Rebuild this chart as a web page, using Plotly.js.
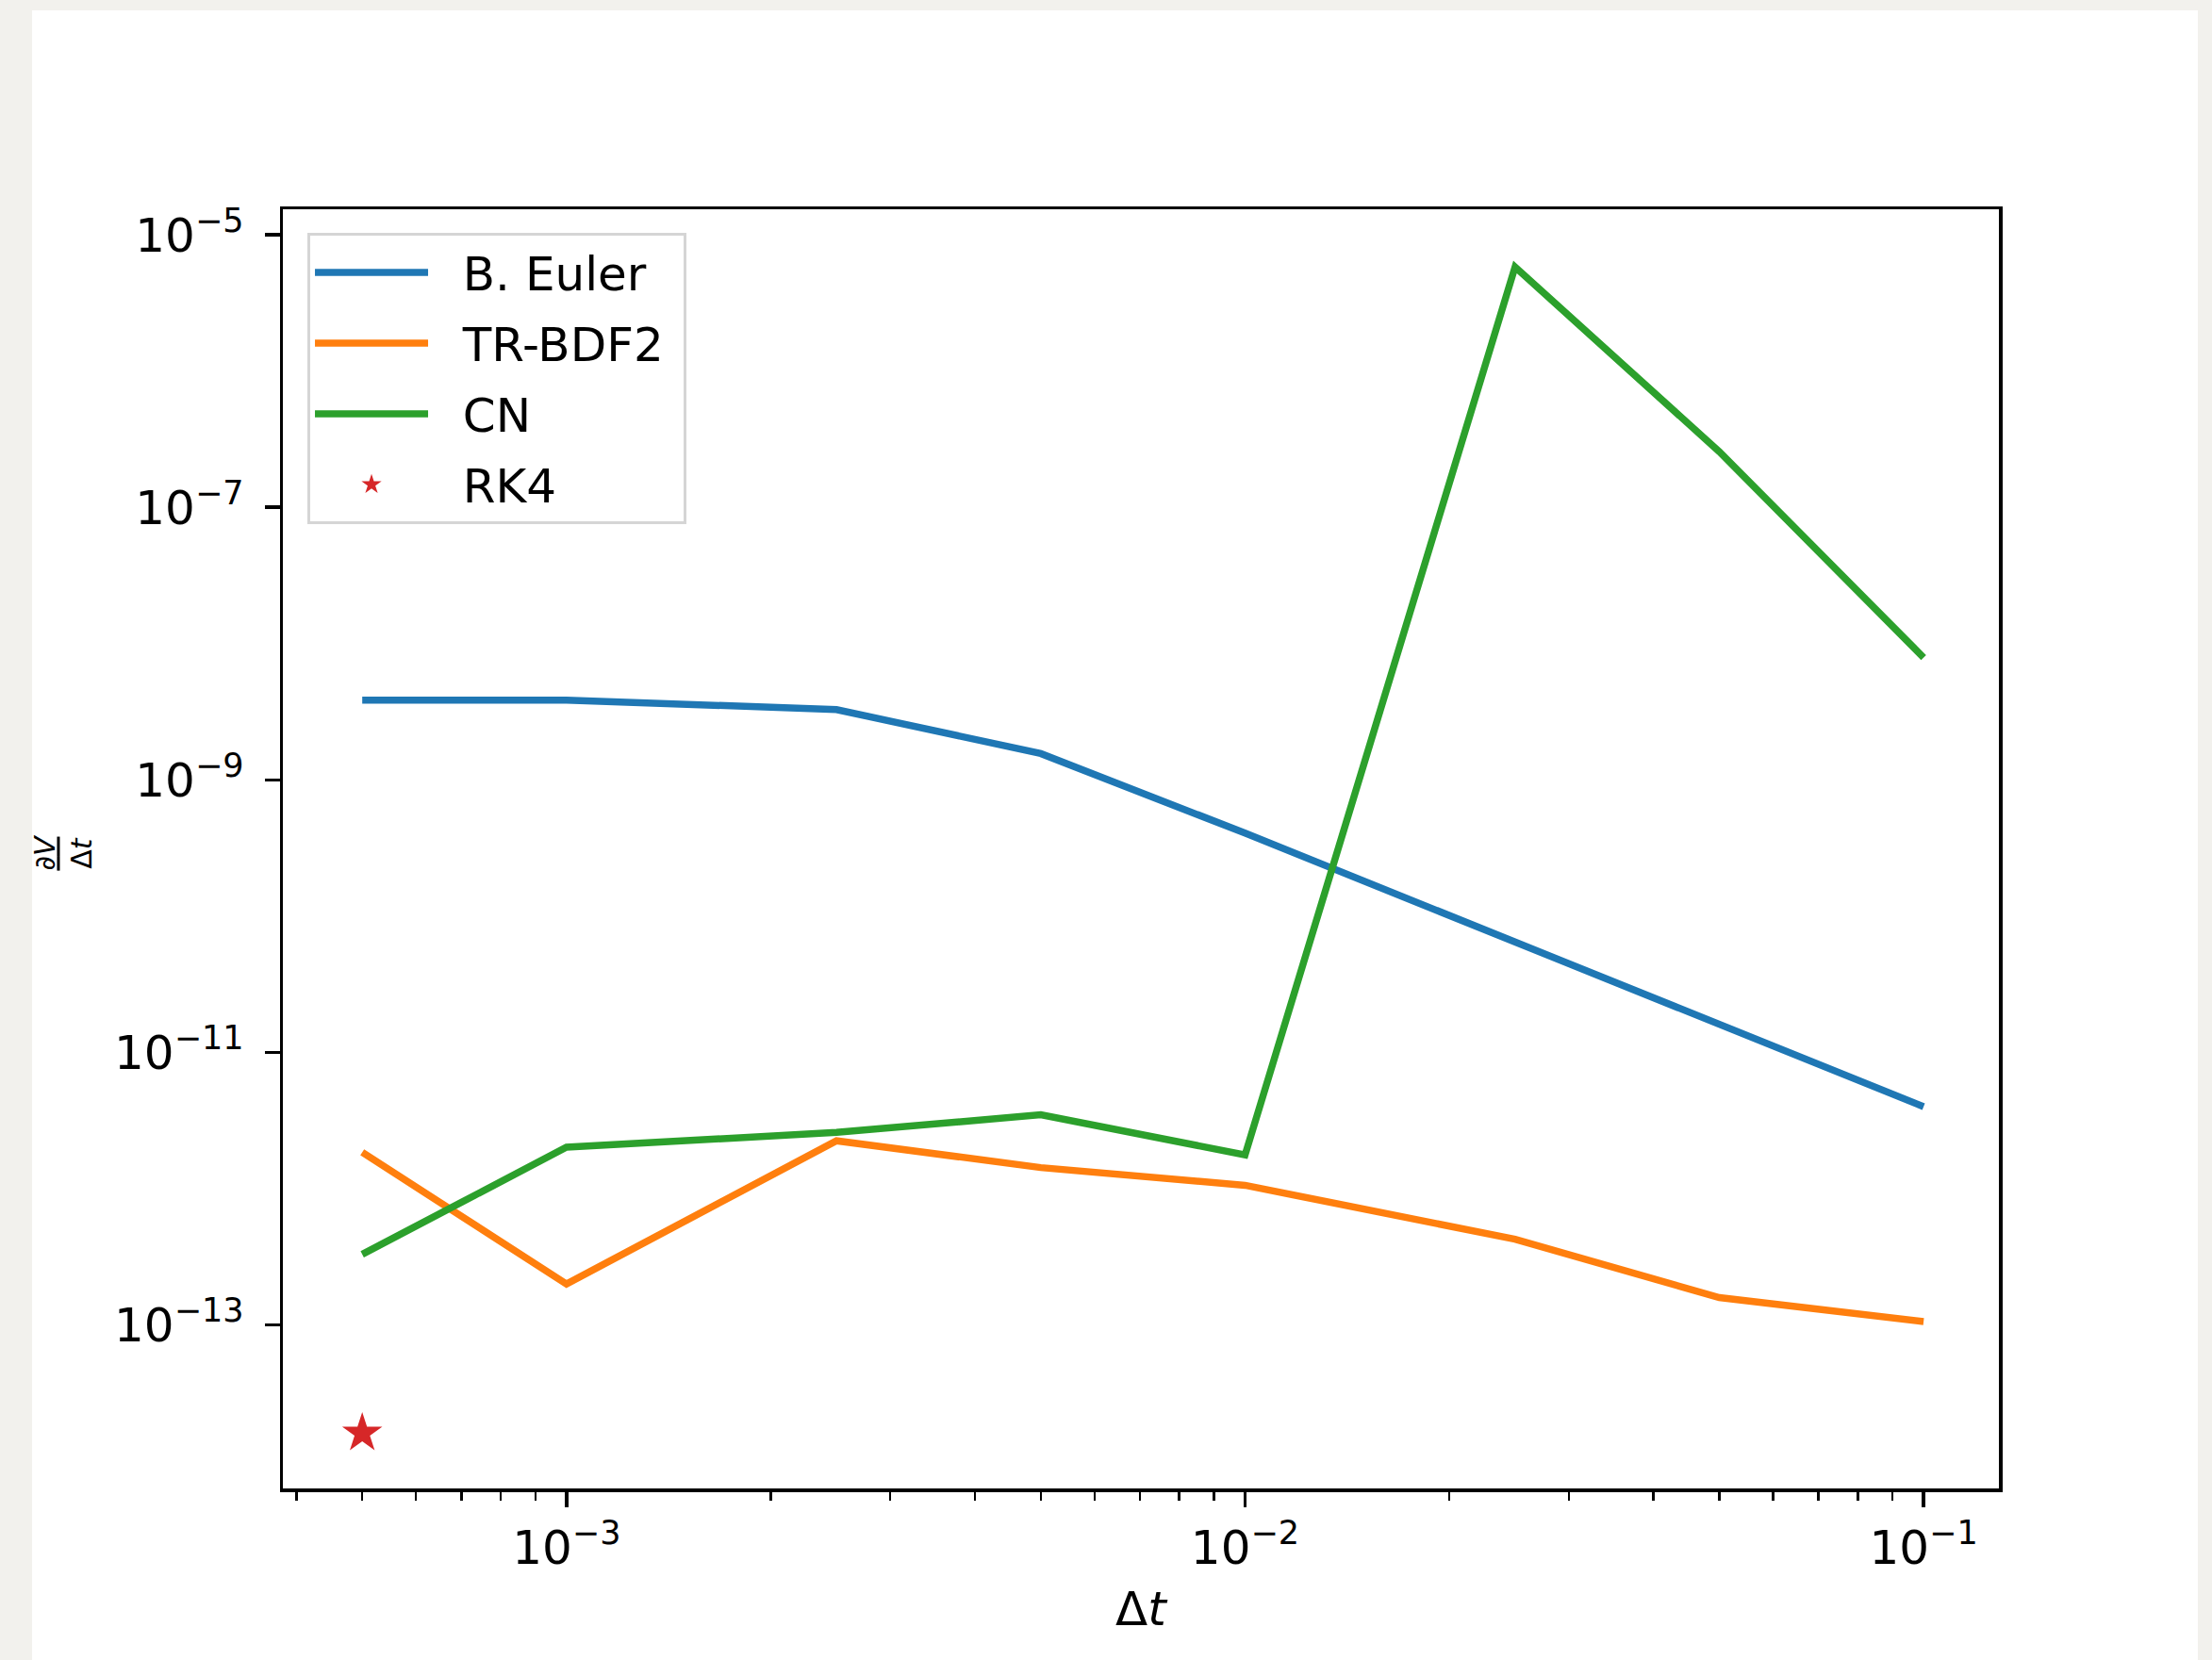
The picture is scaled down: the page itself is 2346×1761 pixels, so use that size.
<!DOCTYPE html>
<html>
<head>
<meta charset="utf-8">
<script src="https://cdn.plot.ly/plotly-3.0.1.min.js"></script>
<style>
  html, body { margin: 0; padding: 0; background: #f2f1ed; width: 2346px; height: 1761px; overflow: hidden; }
  #sheet { position: absolute; left: 34px; top: 11px; width: 2297px; height: 1750px; background: #ffffff; }
  #chart { position: absolute; left: 0; top: 0; width: 2346px; height: 1761px; }
</style>
</head>
<body>
<div id="sheet"></div>
<div id="chart"></div>
<script>
// ---- data ----
const dt = [5e-4, 1e-3, 2.5e-3, 5e-3, 1e-2, 2.5e-2, 5e-2, 1e-1];
const euler = [3.85e-9, 3.85e-9, 3.28e-9, 1.56e-9, 4.07e-10, 6.45e-11, 1.63e-11, 4.0e-12];
const trbdf2 = [1.85e-12, 2.0e-13, 2.25e-12, 1.43e-12, 1.06e-12, 4.26e-13, 1.59e-13, 1.06e-13];
const cn = [3.3e-13, 2.02e-12, 2.59e-12, 3.49e-12, 1.77e-12, 5.8e-6, 2.56e-7, 7.9e-9];
const rk4X = [5e-4];
const rk4Y = [1.61e-14];
const seriesNames = ["B. Euler", "TR-BDF2", "CN", "RK4"];
const xTickExp = [-3, -2, -1];
const yTickExp = [-5, -7, -9, -11, -13];

const FONT = "DejaVu Sans, sans-serif";
const colors = ["#1f77b4", "#ff7f0e", "#2ca02c", "#d62728"];
const lw = 7.5;
const pad = "\u00a0\u00a0";
const tail = "\u00a0";

const traces = [
  { x: dt, y: euler, name: pad + seriesNames[0] + tail, legendgroup: "g1", mode: "lines", line: { color: colors[0], width: lw } },
  { x: dt, y: trbdf2, name: pad + seriesNames[1] + tail, legendgroup: "g2", mode: "lines", line: { color: colors[1], width: lw } },
  { x: dt, y: cn, name: pad + seriesNames[2] + tail, legendgroup: "g3", mode: "lines", line: { color: colors[2], width: lw } },
  { x: rk4X, y: rk4Y, name: pad + seriesNames[3] + tail, legendgroup: "g4", mode: "markers",
    marker: { symbol: "star", color: colors[3], size: 32, line: { width: 0 } } }
];

const pow = e => "10<sup>\u2212" + Math.abs(e) + "</sup>";

const layout = {
  width: 2346, height: 1761,
  margin: { l: 300, r: 226, t: 222, b: 182 },
  paper_bgcolor: "rgba(0,0,0,0)",
  plot_bgcolor: "#ffffff",
  font: { family: FONT, size: 50, color: "#000000" },
  showlegend: true,
  legend: {
    x: 0.0143, y: 0.9816, xanchor: "left", yanchor: "top",
    bgcolor: "#ffffff", bordercolor: "#d5d5d5", borderwidth: 3,
    font: { family: FONT, size: 50, color: "#000" },
    itemwidth: 120,
    tracegroupgap: 7
  },
  xaxis: {
    type: "log",
    range: [-3.418, -0.889],
    showgrid: false, zeroline: false,
    showline: true, linecolor: "#000", linewidth: 3.5, mirror: true,
    ticks: "outside", ticklen: 16, tickwidth: 3.5, tickcolor: "#000",
    tickmode: "array",
    tickvals: xTickExp.map(e => Math.pow(10, e)),
    ticktext: xTickExp.map(pow),
    tickfont: { family: FONT, size: 50 },
    minor: { ticks: "outside", ticklen: 9, tickwidth: 2.5, tickcolor: "#000", dtick: "D1", showgrid: false },
    title: { text: "\u0394<i>t</i>", font: { family: FONT, size: 50 }, standoff: 20 }
  },
  yaxis: {
    type: "log",
    range: [-14.199, -4.813],
    showgrid: false, zeroline: false,
    showline: true, linecolor: "#000", linewidth: 3.5, mirror: true,
    ticks: "outside", ticklen: 16, tickwidth: 3.5, tickcolor: "#000",
    ticklabelstandoff: 12,
    tickmode: "array",
    tickvals: yTickExp.map(e => Math.pow(10, e)),
    ticktext: yTickExp.map(pow),
    tickfont: { family: FONT, size: 50 },
    title: { text: "" }
  },
  annotations: [{
    xref: "paper", yref: "paper",
    x: -0.128, y: 0.497, xanchor: "center", yanchor: "middle",
    textangle: -90,
    showarrow: false,
    text: "<u>\u2202<i>V</i></u><br>\u0394<i>t</i>",
    font: { family: FONT, size: 30, color: "#000" }
  }]
};

Plotly.newPlot("chart", traces, layout, { displayModeBar: false, staticPlot: true });
</script>
</body>
</html>
